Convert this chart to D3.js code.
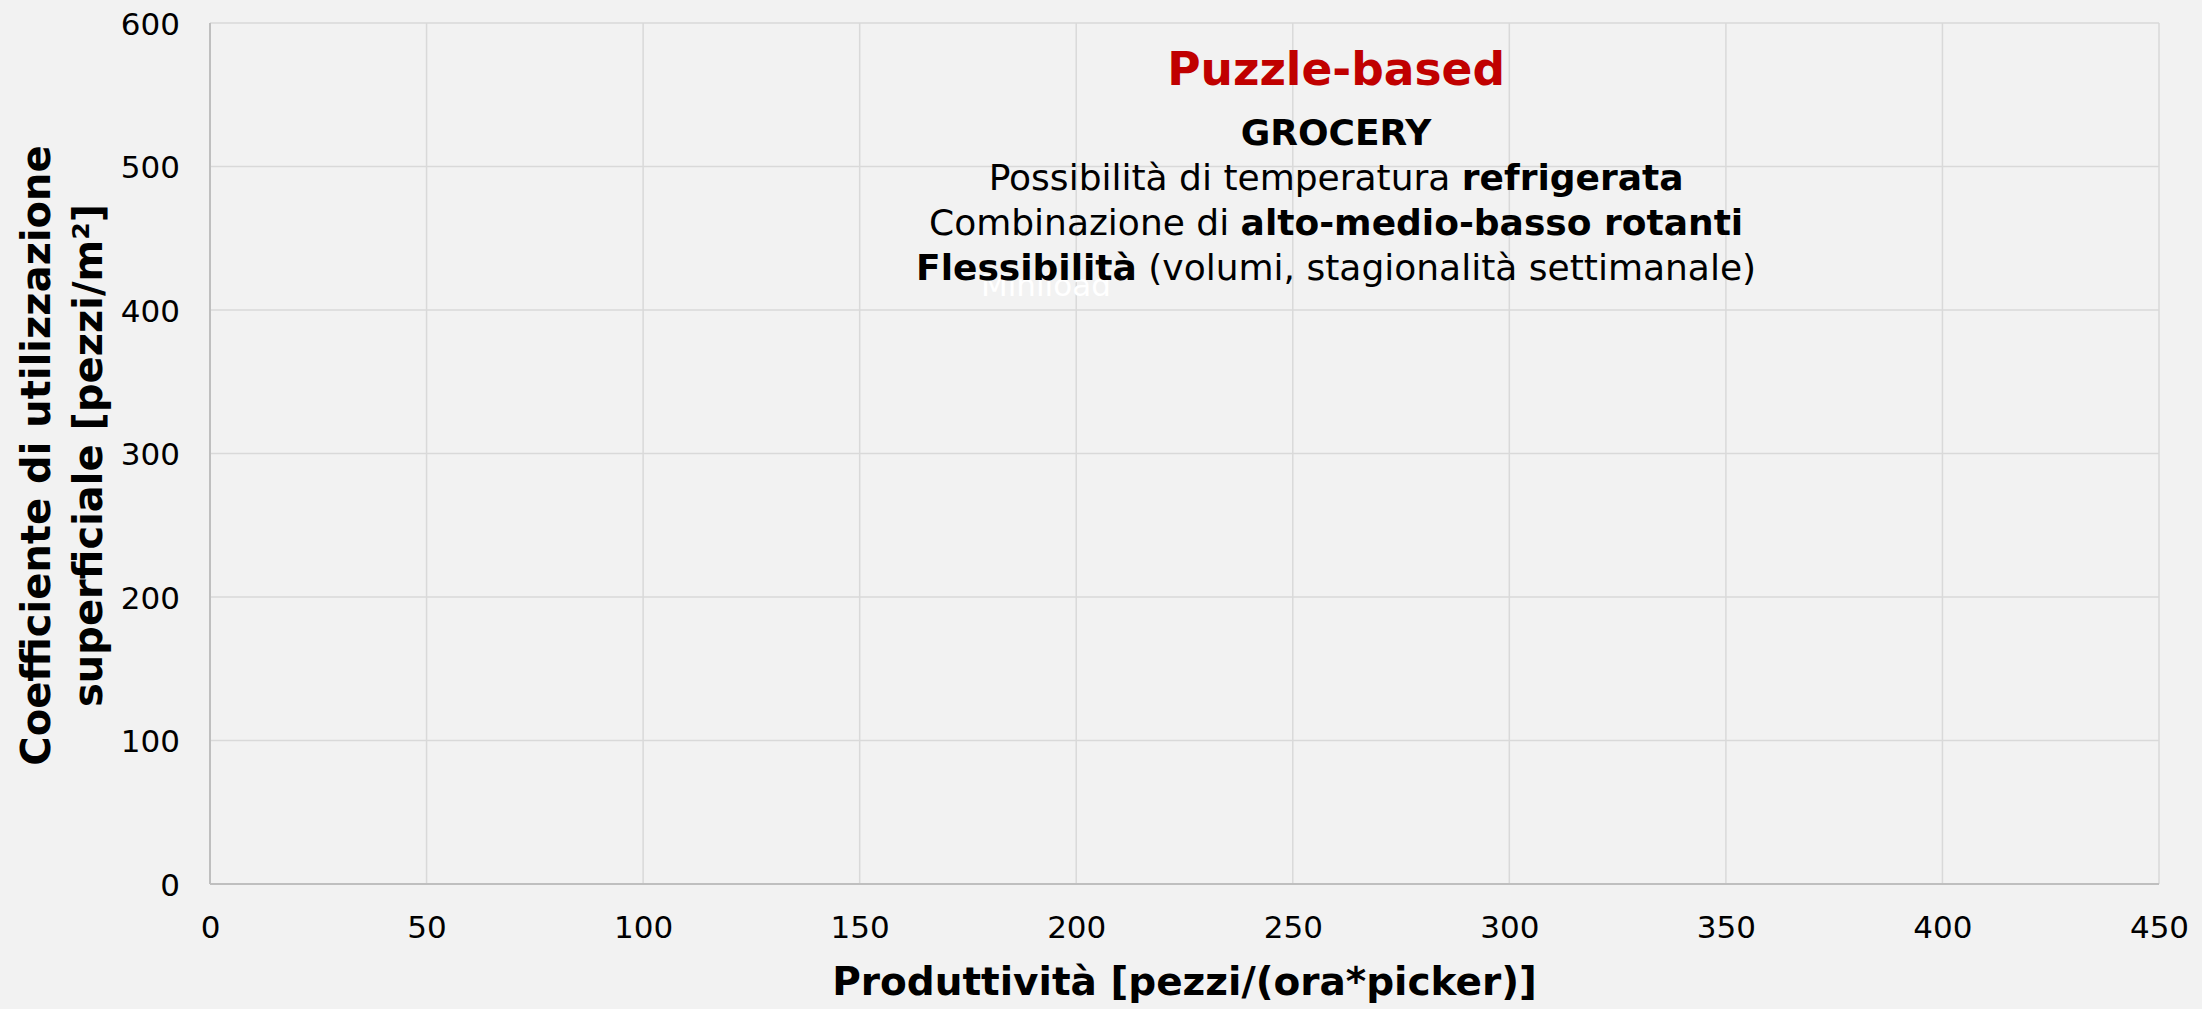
<!DOCTYPE html>
<html>
<head>
<meta charset="utf-8">
<script src="https://cdn.jsdelivr.net/npm/d3@7"></script>
<style>
  body { margin: 0; background: #f2f2f2; }
  svg { display: block; font-family: "DejaVu Sans", sans-serif; }
</style>
</head>
<body>
<div id="my_dataviz"></div>
<script>
// axis ticks
var xTicks = [0, 50, 100, 150, 200, 250, 300, 350, 400, 450];
var yTicks = [0, 100, 200, 300, 400, 500, 600];

// axis titles
var xTitle = "Produttività [pezzi/(ora*picker)]";
var yTitle = ["Coefficiente di utilizzazione", "superficiale [pezzi/m²]"];

// annotation box: [text, bold?] pieces per line
var annoTitle = "Puzzle-based";
var annoLines = [
  [["GROCERY", true]],
  [["Possibilità di temperatura ", false], ["refrigerata", true]],
  [["Combinazione di ", false], ["alto-medio-basso rotanti", true]],
  [["Flessibilità", true], [" (volumi, stagionalità settimanale)", false]]
];
var annoAt = [260, 557];   // data coords of the annotation title baseline
var ghostLabel = "Miniload";
var ghostAt = [178, 410];

// set the dimensions and margins of the graph
var margin = {top: 23, right: 43, bottom: 125, left: 210},
    width = 2202 - margin.left - margin.right,
    height = 1009 - margin.top - margin.bottom;

var svg = d3.select("#my_dataviz")
  .append("svg")
    .attr("width", width + margin.left + margin.right)
    .attr("height", height + margin.top + margin.bottom)
  .append("g")
    .attr("transform", "translate(" + margin.left + "," + margin.top + ")");

var x = d3.scaleLinear()
  .domain([0, 450])
  .range([0, width]);

var y = d3.scaleLinear()
  .domain([0, 600])
  .range([height, 0]);

// gridlines
svg.append("g")
  .selectAll("line")
  .data(xTicks)
  .enter().append("line")
    .attr("x1", function(d) { return x(d); })
    .attr("x2", function(d) { return x(d); })
    .attr("y1", 0)
    .attr("y2", height)
    .attr("stroke", "#d9d9d9")
    .attr("stroke-width", 1.5);

svg.append("g")
  .selectAll("line")
  .data(yTicks)
  .enter().append("line")
    .attr("x1", 0)
    .attr("x2", width)
    .attr("y1", function(d) { return y(d); })
    .attr("y2", function(d) { return y(d); })
    .attr("stroke", "#d9d9d9")
    .attr("stroke-width", 1.5);

// axis lines
svg.append("line")
  .attr("x1", 0).attr("x2", width)
  .attr("y1", y(0)).attr("y2", y(0))
  .attr("stroke", "#bfbfbf")
  .attr("stroke-width", 2);
svg.append("line")
  .attr("x1", x(0)).attr("x2", x(0))
  .attr("y1", 0).attr("y2", height)
  .attr("stroke", "#bfbfbf")
  .attr("stroke-width", 2);

// X axis
var xAxis = svg.append("g")
  .attr("transform", "translate(0," + height + ")")
  .call(d3.axisBottom(x).tickValues(xTicks).tickSize(0).tickPadding(32));
xAxis.select(".domain").remove();
xAxis.selectAll("text")
  .attr("font-family", "DejaVu Sans, sans-serif")
  .attr("font-size", "31px")
  .attr("fill", "#000");

// Y axis
var yAxis = svg.append("g")
  .call(d3.axisLeft(y).tickValues(yTicks).tickSize(0).tickPadding(30));
yAxis.select(".domain").remove();
yAxis.selectAll("text")
  .attr("font-family", "DejaVu Sans, sans-serif")
  .attr("font-size", "31px")
  .attr("dy", "0.36em")
  .attr("fill", "#000");

// axis titles
svg.append("text")
  .attr("x", width / 2)
  .attr("y", height + 111)
  .attr("text-anchor", "middle")
  .attr("font-size", "39px")
  .attr("font-weight", "bold")
  .attr("fill", "#000")
  .text(xTitle);

svg.selectAll(".ytitle")
  .data(yTitle)
  .enter().append("text")
    .attr("class", "ytitle")
    .attr("transform", function(d, i) {
      return "translate(" + (-160 + i * 52) + "," + (height / 2 + 2) + ") rotate(-90)";
    })
    .attr("text-anchor", "middle")
    .attr("font-size", "40px")
    .attr("font-weight", "bold")
    .attr("fill", "#000")
    .text(function(d) { return d; });

// faint leftover label behind the annotation
svg.append("text")
  .attr("x", x(ghostAt[0]))
  .attr("y", y(ghostAt[1]))
  .attr("font-size", "31px")
  .attr("fill", "#ffffff")
  .text(ghostLabel);

// annotation
var anno = svg.append("g")
  .attr("transform", "translate(" + x(annoAt[0]) + "," + y(annoAt[1]) + ")");

anno.append("text")
  .attr("text-anchor", "middle")
  .attr("font-size", "45.5px")
  .attr("font-weight", "bold")
  .attr("fill", "#c00000")
  .text(annoTitle);

anno.selectAll(".line")
  .data(annoLines)
  .enter().append("text")
    .attr("class", "line")
    .attr("text-anchor", "middle")
    .attr("y", function(d, i) { return 60 + i * 45; })
    .attr("font-size", "36px")
    .attr("fill", "#000")
    .selectAll("tspan")
    .data(function(d) { return d; })
    .enter().append("tspan")
      .attr("font-weight", function(d) { return d[1] ? "bold" : "normal"; })
      .text(function(d) { return d[0]; });
</script>
</body>
</html>
